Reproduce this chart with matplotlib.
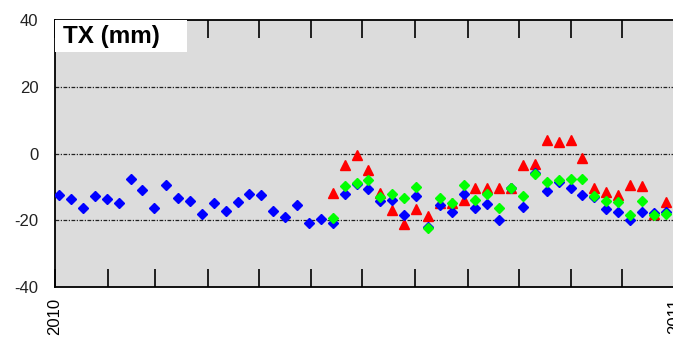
import numpy as np
import matplotlib.pyplot as plt
import matplotlib.dates as mdates
from matplotlib.patches import Rectangle

plt.rcParams['font.family'] = ['Liberation Sans', 'DejaVu Sans']
plt.rcParams['axes.unicode_minus'] = False

# weekly solutions, 2010
start = np.datetime64('2010-01-03T12:00')
dates = start + np.arange(52) * np.timedelta64(7, 'D')

blue = [-12.5, -13.7, -16.2, -12.7, -13.7, -14.7, -7.5, -10.9, -16.2, -9.4,
        -13.4, -14.2, -18.2, -14.7, -17.3, -14.5, -12.2, -12.3, -17.3, -19.0,
        -15.3, -20.9, -19.5, -20.8, -12.2, -9.0, -10.7, -14.2, -13.9, -18.4,
        -12.8, -22.0, -15.4, -17.4, -12.0, -16.4, -15.0, -19.9, -10.2, -15.9,
        -5.7, -11.3, -8.5, -10.4, -12.4, -13.0, -16.7, -17.5, -19.8, -17.6,
        -17.8, -17.5]
# red / green start at week 24
red = [-11.9, -3.4, -0.4, -5.0, -11.8, -17.0, -21.0, -16.5, -18.8, -14.8,
       -14.7, -14.0, -10.2, -10.2, -10.4, -10.4, -3.4, -3.0, 4.1, 3.5,
       4.0, -1.3, -10.4, -11.5, -12.4, -9.4, -9.8, -18.0, -14.4]
green = [-19.3, -9.7, -8.8, -7.9, -13.0, -12.0, -13.4, -10.0, -22.2, -13.2,
         -14.9, -9.5, -13.8, -12.0, -16.4, -10.4, -12.7, -6.2, -8.5, -7.8,
         -7.7, -7.7, -12.6, -14.2, -14.6, -18.4, -14.2, -18.4, -18.0]

fig = plt.figure(figsize=(6.73, 3.43), dpi=100)
ax = fig.add_axes([55/673, 56/343, 620/673, 267/343])
ax.set_facecolor('#dcdcdc')

ax.plot(dates[23:], red, linestyle='none', marker='^', ms=7, color='#ff0000', mec='#ff0000', zorder=3)
ax.plot(dates, blue, linestyle='none', marker='D', ms=5.5, color='#0000ff', mec='#0000ff', zorder=4)
ax.plot(dates[23:], green, linestyle='none', marker='D', ms=5.5, color='#00ff00', mec='#00ff00', zorder=5)

ax.set_ylim(-40, 40)
ax.set_yticks([-40, -20, 0, 20, 40])
ax.set_xlim(np.datetime64('2010-01-01'), np.datetime64('2011-01-01'))

ax.xaxis.set_major_locator(mdates.YearLocator())
ax.xaxis.set_major_formatter(mdates.DateFormatter('%Y'))
ax.xaxis.set_minor_locator(mdates.MonthLocator())
ax.tick_params(axis='x', which='both', direction='in', top=True, bottom=True,
               length=13, width=1.2, color='black')
ax.tick_params(axis='x', which='major', labelrotation=90, labelsize=12, pad=8)
ax.tick_params(axis='y', length=0, labelsize=12, pad=12, labelcolor='#222222')

for y in [-20, 0, 20]:
    ax.axhline(y, color='#222222', lw=0.9, dashes=(3, 1.2, 1, 1.2), zorder=2)

for s in ax.spines.values():
    s.set_linewidth(1.3)

# title box
ax.add_patch(Rectangle((0, 1 - 32/267), 132/620, 32/267, transform=ax.transAxes,
                       facecolor='white', edgecolor='none', zorder=6))
ax.text(8/620, 1 - 17/267, 'TX (mm)', transform=ax.transAxes, fontsize=17.5,
        fontweight='bold', va='center', ha='left', zorder=7)

fig.savefig('out.png', dpi=100)
